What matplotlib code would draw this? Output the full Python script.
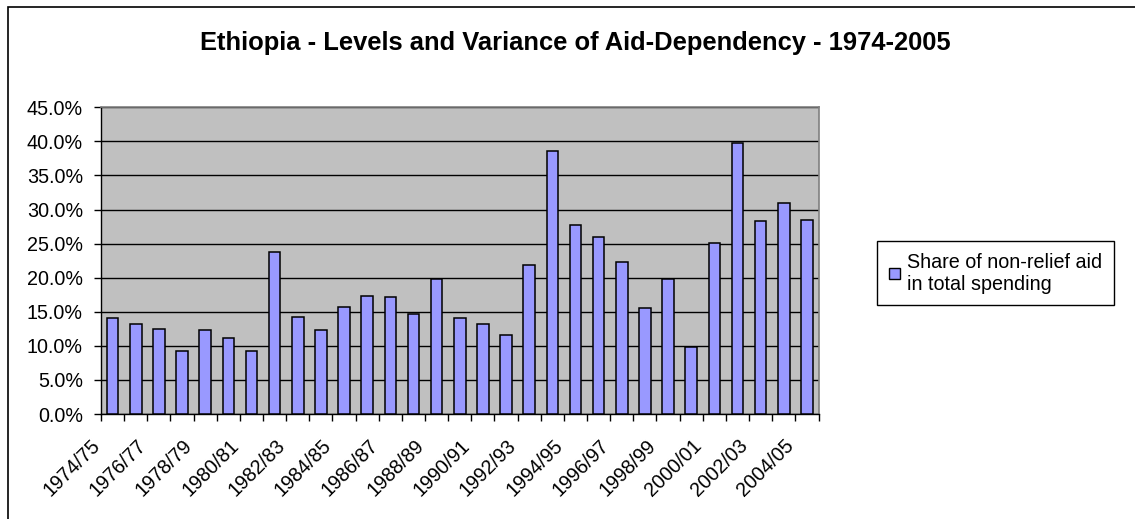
import matplotlib
matplotlib.use('Agg')
import matplotlib.pyplot as plt
import matplotlib.transforms as mtransforms
from matplotlib.patches import Rectangle
from matplotlib.ticker import PercentFormatter, FixedLocator
import numpy as np

plt.rcParams['font.family'] = ['Liberation Sans', 'DejaVu Sans']

# fiscal years 1974/75 .. 2004/05
years = ['1974/75', '1975/76', '1976/77', '1977/78', '1978/79', '1979/80',
         '1980/81', '1981/82', '1982/83', '1983/84', '1984/85', '1985/86',
         '1986/87', '1987/88', '1988/89', '1989/90', '1990/91', '1991/92',
         '1992/93', '1993/94', '1994/95', '1995/96', '1996/97', '1997/98',
         '1998/99', '1999/00', '2000/01', '2001/02', '2002/03', '2003/04',
         '2004/05']
# share of non-relief aid in total spending (%)
share = [14.1, 13.2, 12.5, 9.3, 12.3, 11.2, 9.3, 23.7, 14.3, 12.3, 15.7,
         17.3, 17.1, 14.6, 19.8, 14.1, 13.2, 11.6, 21.9, 38.6, 27.8, 26.0,
         22.3, 15.5, 19.8, 9.8, 25.1, 39.7, 28.3, 31.0, 28.5]
y_ticks = [0, 5, 10, 15, 20, 25, 30, 35, 40, 45]

title = 'Ethiopia - Levels and Variance of Aid-Dependency - 1974-2005'
series_name = 'Share of non-relief aid\nin total spending'

W, H = 1135, 519
FS = 14.2
fig = plt.figure(figsize=(W / 100, H / 100), dpi=100)

# outer chart frame (Excel style)
fig.patches.append(Rectangle((8 / W, -0.1), 2, 1.1 - 7 / H, transform=fig.transFigure,
                             fill=False, edgecolor='black', linewidth=1.2))

ax = fig.add_axes([101 / W, 1 - 414 / H, (818.5 - 101) / W, (414 - 107.3) / H])
ax.set_facecolor('#C0C0C0')

x = np.arange(len(years))
ax.bar(x, share, width=0.5, color='#9999FF', edgecolor='black', linewidth=1.1, zorder=3)

ax.set_xlim(-0.5, len(years) - 0.5)
ax.set_ylim(0, 45)
ax.yaxis.set_major_locator(FixedLocator(y_ticks))
ax.yaxis.set_major_formatter(PercentFormatter(decimals=1))
ax.grid(axis='y', color='black', linewidth=1, zorder=1)
ax.set_axisbelow(True)

# category boundary ticks, labels on every other category
ax.set_xticks(np.arange(len(years) + 1) - 0.5, minor=True)
ax.set_xticks(x[::2])
ax.set_xticklabels(years[::2], rotation=45, ha='right', va='top')
ax.tick_params(axis='x', which='major', length=0, pad=16, labelsize=FS)
ax.tick_params(axis='x', which='minor', length=5, direction='out', width=1)
ax.tick_params(axis='y', length=5, direction='out', width=1, labelsize=FS, pad=8)
shift = mtransforms.ScaledTranslation(-9 / 100, 0, fig.dpi_scale_trans)
for lab in ax.get_xticklabels():
    lab.set_transform(lab.get_transform() + shift)

for side in ['top', 'right']:
    ax.spines[side].set_color('#808080')
    ax.spines[side].set_linewidth(1.2)
for side in ['left', 'bottom']:
    ax.spines[side].set_color('black')
    ax.spines[side].set_linewidth(1)

fig.text(575.5 / W, 1 - 43 / H, title, ha='center', va='center', fontsize=18.4, fontweight='bold')

leg = fig.legend([Rectangle((0, 0), 1, 1, facecolor='#9999FF', edgecolor='black')],
                 [series_name], loc='center', bbox_to_anchor=(995.5 / W, 1 - 273 / H),
                 fancybox=False, edgecolor='black', framealpha=1, fontsize=FS,
                 handlelength=0.55, handleheight=0.55, handletextpad=0.35,
                 borderpad=0.6, borderaxespad=0)
leg.get_frame().set_linewidth(1)

fig.savefig('out.png', dpi=100)
